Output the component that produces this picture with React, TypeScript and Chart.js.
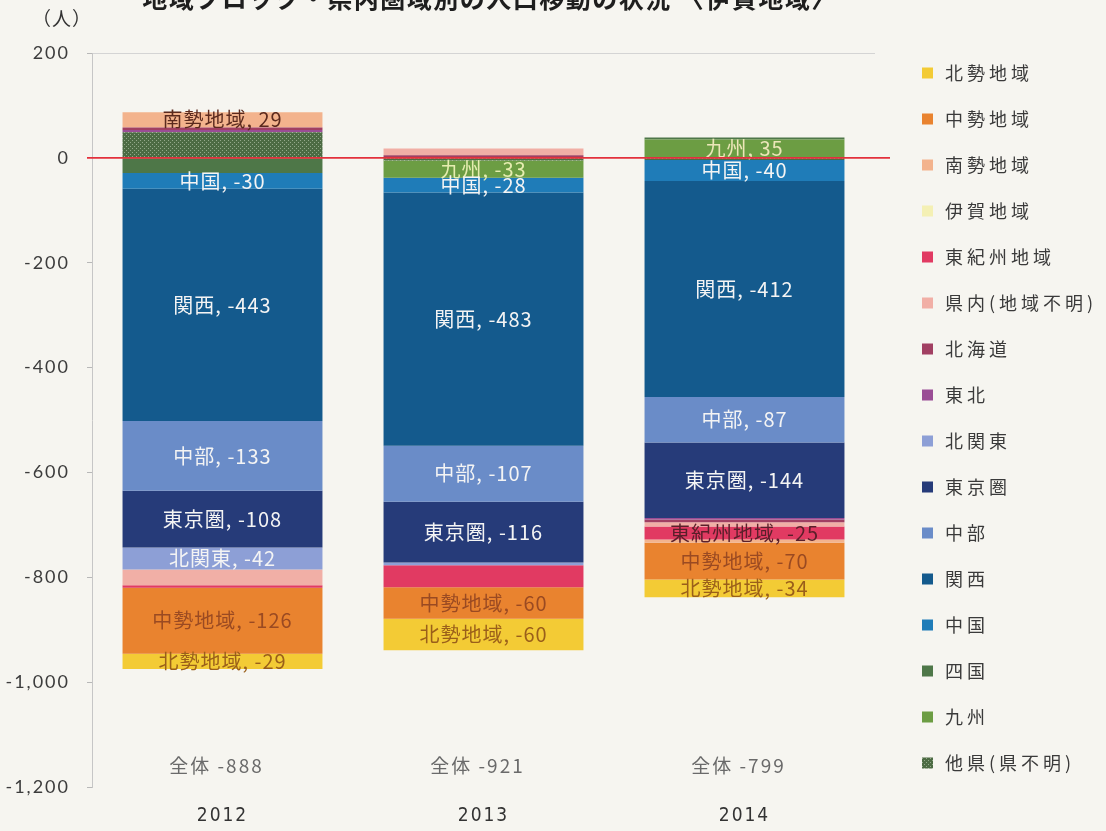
import React, { useEffect, useRef } from "react";
import { Chart, registerables } from "chart.js";

Chart.register(...registerables);

// ---- data ----
const years = ["2012", "2013", "2014"];
const totals = [-888, -921, -799];
const yTickValues = [200, 0, -200, -400, -600, -800, -1000, -1200];

// stack order: first series sits next to zero
const takenUnknown = [49, -5, -4]; // 他県(県不明)
const kyushu = [0, -33, 35];
const shikoku = [-29, 0, 4];
const chugoku = [-30, -28, -40];
const kansai = [-443, -483, -412];
const chubu = [-133, -107, -87];
const tokyo = [-108, -116, -144];
const kitaKanto = [-42, -5, 0];
const tohoku = [4, 0, -3];
const hokkaido = [5, 5, -5];
const kennaiUnknown = [-30, 13, -8];
const higashiKishu = [-5, -42, -25];
const iga = [0, 0, 0];
const nansei = [29, 0, -6];
const chusei = [-126, -60, -70];
const hokusei = [-29, -60, -34];

const seriesNames = [
  "他県(県不明)", "九州", "四国", "中国", "関西", "中部", "東京圏", "北関東",
  "東北", "北海道", "県内(地域不明)", "東紀州地域", "伊賀地域", "南勢地域", "中勢地域", "北勢地域",
];
const seriesData = [
  takenUnknown, kyushu, shikoku, chugoku, kansai, chubu, tokyo, kitaKanto,
  tohoku, hokkaido, kennaiUnknown, higashiKishu, iga, nansei, chusei, hokusei,
];
const seriesColors = [
  "PATTERN", "#6c9d43", "#4e7748", "#1f7cb8", "#145a8d", "#6a8cc8", "#263b79", "#8d9fd6",
  "#9a4d95", "#a13f62", "#f1afa6", "#e13a62", "#f4f0b4", "#f3b38d", "#e9832f", "#f3cb35",
];

// segments that carry a data label: [series, year index, text colour]
const segmentLabels: [string, number, string][] = [
  ["南勢地域", 0, "#5b2a1e"],
  ["中国", 0, "#f4f4f4"],
  ["関西", 0, "#f4f4f4"],
  ["中部", 0, "#f4f4f4"],
  ["東京圏", 0, "#f4f4f4"],
  ["北関東", 0, "#f4f4f4"],
  ["中勢地域", 0, "#9a4a22"],
  ["北勢地域", 0, "#9a5f1a"],
  ["九州", 1, "#e6edb0"],
  ["中国", 1, "#f4f4f4"],
  ["関西", 1, "#f4f4f4"],
  ["中部", 1, "#f4f4f4"],
  ["東京圏", 1, "#f4f4f4"],
  ["中勢地域", 1, "#9a4a22"],
  ["北勢地域", 1, "#9a5f1a"],
  ["九州", 2, "#ece6b8"],
  ["中国", 2, "#f4f4f4"],
  ["関西", 2, "#f4f4f4"],
  ["中部", 2, "#f4f4f4"],
  ["東京圏", 2, "#f4f4f4"],
  ["東紀州地域", 2, "#5a1f2a"],
  ["中勢地域", 2, "#9a4a22"],
  ["北勢地域", 2, "#9a5f1a"],
];

const titleText = "地域ブロック・県内圏域別の人口移動の状況 〈伊賀地域〉";
const unitText = "（人）";

function makePattern(): CanvasPattern | string {
  const c = document.createElement("canvas");
  c.width = 4;
  c.height = 4;
  const g = c.getContext("2d");
  if (!g) return "#56744c";
  g.fillStyle = "#4c6b43";
  g.fillRect(0, 0, 4, 4);
  g.fillStyle = "#93a98a";
  g.fillRect(0, 0, 1, 1);
  g.fillRect(2, 2, 1, 1);
  const p = g.createPattern(c, "repeat");
  return p || "#56744c";
}

export default function App() {
  const ref = useRef<HTMLCanvasElement | null>(null);

  useEffect(() => {
    if (!ref.current) return;
    const pattern = makePattern();
    const fills = seriesColors.map((c) => (c === "PATTERN" ? pattern : c));

    const overlay = {
      id: "overlay",
      beforeDraw(chart: any) {
        chart.ctx.letterSpacing = "2px";
      },
      afterDatasetsDraw(chart: any) {
        const ctx = chart.ctx as CanvasRenderingContext2D;
        ctx.save();
        (ctx as any).letterSpacing = "1px";
        ctx.textAlign = "center";
        ctx.textBaseline = "middle";
        ctx.font = '20px "Noto Sans CJK JP"';
        for (const [name, yi, color] of segmentLabels) {
          const di = seriesNames.indexOf(name);
          const el = chart.getDatasetMeta(di).data[yi];
          const { x, y, base } = el.getProps(["x", "y", "base"], true);
          const v = chart.data.datasets[di].data[yi];
          ctx.fillStyle = color;
          ctx.fillText(`${name}, ${v}`, x, (y + base) / 2);
        }
        const ys = chart.scales.y;
        const y0 = ys.getPixelForValue(0);
        ctx.strokeStyle = "#e3303c";
        ctx.lineWidth = 1.6;
        ctx.beginPath();
        ctx.moveTo(chart.chartArea.left - 5, y0);
        ctx.lineTo(chart.chartArea.right + 15, y0);
        ctx.stroke();
        ctx.restore();
      },
      afterDraw(chart: any) {
        const ctx = chart.ctx as CanvasRenderingContext2D;
        const xs = chart.scales.x;
        const ys = chart.scales.y;
        ctx.save();
        // totals under each bar
        (ctx as any).letterSpacing = "2px";
        ctx.font = '19px "Noto Sans CJK JP"';
        ctx.fillStyle = "#6a6a6a";
        ctx.textAlign = "center";
        ctx.textBaseline = "middle";
        totals.forEach((t, i) => {
          ctx.fillText(`全体 ${t}`, xs.getPixelForValue(i) - 6, ys.getPixelForValue(-1160));
        });
        // unit
        (ctx as any).letterSpacing = "1px";
        ctx.font = '19px "Noto Sans CJK JP"';
        ctx.fillStyle = "#333";
        ctx.textAlign = "left";
        ctx.fillText(unitText, 32, 19);
        // title (cut off at top edge as in the scan)
        (ctx as any).letterSpacing = "1.5px";
        ctx.font = 'bold 25px "Noto Sans CJK JP"';
        ctx.fillStyle = "#1e1e1e";
        ctx.textAlign = "center";
        ctx.textBaseline = "alphabetic";
        ctx.fillText(titleText, 490, 8);
        // legend
        (ctx as any).letterSpacing = "4px";
        ctx.font = '18px "Noto Sans CJK JP"';
        ctx.textAlign = "left";
        ctx.textBaseline = "middle";
        const order = seriesNames.map((_, i) => i).reverse();
        order.forEach((di, k) => {
          const cy = 73 + k * 46;
          ctx.fillStyle = fills[di] as any;
          ctx.fillRect(922, cy - 5.5, 11, 11);
          ctx.fillStyle = "#3a3a3a";
          ctx.fillText(seriesNames[di], 945, cy);
        });
        ctx.restore();
      },
    };

    const chart = new Chart(ref.current, {
      type: "bar",
      data: {
        labels: years,
        datasets: seriesNames.map((name, i) => ({
          label: name,
          data: seriesData[i],
          backgroundColor: fills[i] as any,
          borderWidth: 0,
          categoryPercentage: 1,
          barPercentage: 0.766,
        })),
      },
      options: {
        animation: false,
        responsive: false,
        maintainAspectRatio: false,
        layout: { padding: { top: 53, right: 231, left: 0, bottom: 0 } },
        plugins: {
          legend: { display: false },
          tooltip: { enabled: false },
          title: { display: false },
        },
        scales: {
          x: {
            stacked: true,
            grid: { display: false, drawTicks: false },
            border: { display: false },
            ticks: {
              font: { family: "'Liberation Sans Narrow', 'DejaVu Sans Condensed', sans-serif", size: 19 },
              color: "#333",
              padding: 18,
            },
            afterFit: (s: any) => {
              s.height = 44;
            },
          },
          y: {
            stacked: true,
            min: -1200,
            max: 200,
            afterBuildTicks: (s: any) => {
              s.ticks = yTickValues.map((v) => ({ value: v }));
            },
            afterFit: (s: any) => {
              s.width = 92;
            },
            grid: {
              color: (c: any) => (c.tick && c.tick.value === 200 ? "#d4d4d4" : "rgba(0,0,0,0)"),
              tickColor: "#b8b8b8",
              tickLength: 5,
              drawTicks: true,
            },
            border: { display: true, color: "#c6c6c6", width: 1 },
            ticks: {
              font: { family: "Lato", size: 18 },
              color: "#3c3c3c",
              padding: 17,
              callback: (v: any) => Number(v).toLocaleString("en-US"),
            },
          },
        },
      },
      plugins: [overlay],
    });
    return () => chart.destroy();
  }, []);

  return (
    <div
      style={{
        position: "absolute",
        left: 0,
        top: 0,
        width: 1106,
        height: 831,
        background: "#f6f5f0",
        overflow: "hidden",
      }}
    >
      <canvas ref={ref} width={1106} height={831} style={{ display: "block", width: 1106, height: 831 }} />
    </div>
  );
}
